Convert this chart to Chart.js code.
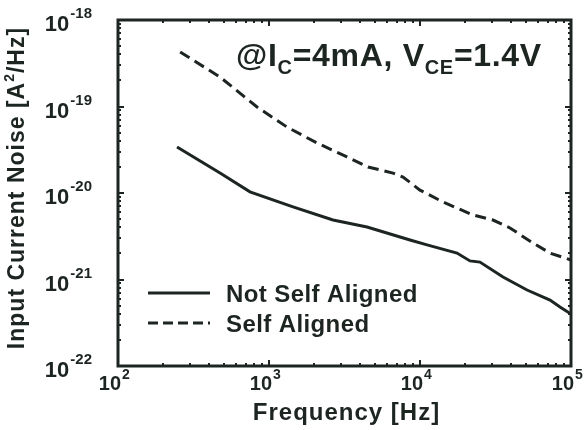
<!DOCTYPE html>
<html>
<head>
<meta charset="utf-8">
<script src="https://cdn.jsdelivr.net/npm/chart.js@4"></script>
<style>
  html, body { margin: 0; padding: 0; background: #fff; }
  #wrap { width: 584px; height: 430px; position: relative; }
</style>
</head>
<body>
<div id="wrap"><canvas id="noiseChart"></canvas></div>
<script>
// values
const freqNotSA  = [246, 474, 748, 1442, 2653, 4457, 8590, 11130, 17580, 21430, 24950, 35460, 51170, 72610, 84540, 100000];
const noiseNotSA = [3.4e-20, 1.7e-20, 1.03e-20, 6.9e-21, 4.87e-21, 4.05e-21, 2.86e-21, 2.51e-21, 2.02e-21, 1.64e-21, 1.59e-21, 1.07e-21, 7.56e-22, 5.79e-22, 4.81e-22, 3.99e-22];
const freqSA  = [258, 474, 833, 1315, 2078, 3285, 4526, 6624, 7716, 10000, 14200, 22440, 30420, 39450, 56000, 72610, 100000];
const noiseSA = [4.27e-19, 2.19e-19, 9.87e-20, 5.79e-20, 3.79e-20, 2.61e-20, 2.0e-20, 1.70e-20, 1.53e-20, 1.08e-20, 7.87e-21, 5.57e-21, 4.87e-21, 3.94e-21, 2.64e-21, 2.02e-21, 1.68e-21];
const seriesNames = ['Not Self Aligned', 'Self Aligned'];
const xTickExps = [2, 3, 4, 5];
const yTickExps = [-22, -21, -20, -19, -18];

const INK = '#1d2521';
const FONT = '"Liberation Sans", Arial, sans-serif';

function pts(xs, ys) {
    return xs.map((x, i) => ({ x: x, y: ys[i] }));
}

// frame, inward ticks, labels, note and legend
const decorPlugin = {
    id: 'decor',
    afterDraw(chart) {
        const ctx = chart.ctx;
        const a = chart.chartArea;
        const xs = chart.scales.x, ys = chart.scales.y;
        ctx.save();
        ctx.strokeStyle = INK;
        ctx.fillStyle = INK;

        // ticks
        ctx.lineWidth = 2;
        for (let e = xTickExps[0]; e <= xTickExps[xTickExps.length - 1]; e++) {
            for (let m = 1; m < 10; m++) {
                const v = m * Math.pow(10, e);
                if (v > xs.max * 1.0001) break;
                const px = Math.round(xs.getPixelForValue(v));
                const len = m === 1 ? 6 : 3;
                ctx.beginPath();
                ctx.moveTo(px, a.bottom); ctx.lineTo(px, a.bottom - len);
                ctx.moveTo(px, a.top); ctx.lineTo(px, a.top + len);
                ctx.stroke();
            }
        }
        for (let e = yTickExps[0]; e <= yTickExps[yTickExps.length - 1]; e++) {
            for (let m = 1; m < 10; m++) {
                const v = m * Math.pow(10, e);
                if (v > ys.max * 1.0001) break;
                const py = Math.round(ys.getPixelForValue(v));
                const len = m === 1 ? 6 : 3;
                ctx.beginPath();
                ctx.moveTo(a.left, py); ctx.lineTo(a.left + len, py);
                ctx.moveTo(a.right, py); ctx.lineTo(a.right - len, py);
                ctx.stroke();
            }
        }

        // frame
        ctx.lineWidth = 3;
        ctx.strokeRect(a.left, a.top, a.right - a.left, a.bottom - a.top);

        ctx.textBaseline = 'alphabetic';

        // x tick labels 10^n
        xTickExps.forEach(e => {
            const px = xs.getPixelForValue(Math.pow(10, e));
            ctx.font = 'bold 20px ' + FONT;
            ctx.textAlign = 'right';
            ctx.fillText('10', px + 3, 390);
            ctx.font = 'bold 14px ' + FONT;
            ctx.textAlign = 'left';
            ctx.fillText(String(e), px + 4, 379);
        });

        // y tick labels 10^-n
        yTickExps.forEach(e => {
            const py = ys.getPixelForValue(Math.pow(10, e));
            ctx.font = 'bold 15px ' + FONT;
            const supW = ctx.measureText(String(e)).width;
            ctx.textAlign = 'right';
            ctx.fillText(String(e), 92, py - 2);
            ctx.font = 'bold 22px ' + FONT;
            ctx.fillText('10', 92 - supW - 1, py + 11);
        });

        // axis titles
        ctx.letterSpacing = '1px';
        ctx.font = 'bold 24px ' + FONT;
        ctx.textAlign = 'center';
        ctx.fillText('Frequency [Hz]', (a.left + a.right) / 2 + 2, 420);

        ctx.save();
        ctx.translate(24, 188);
        ctx.rotate(-Math.PI / 2);
        ctx.textAlign = 'left';
        const t1 = 'Input Current Noise [A', t2 = '/Hz]';
        ctx.font = 'bold 23px ' + FONT;
        const w1 = ctx.measureText(t1).width;
        const w2 = ctx.measureText(t2).width;
        ctx.font = 'bold 14px ' + FONT;
        const ws = ctx.measureText('2').width;
        let x0 = -(w1 + ws + w2) / 2;
        ctx.font = 'bold 23px ' + FONT;
        ctx.fillText(t1, x0, 0);
        ctx.font = 'bold 14px ' + FONT;
        ctx.fillText('2', x0 + w1, -10);
        ctx.font = 'bold 23px ' + FONT;
        ctx.fillText(t2, x0 + w1 + ws, 0);
        ctx.restore();

        // operating point note
        ctx.textAlign = 'left';
        ctx.letterSpacing = '0.7px';
        const parts = [['@I', 0], ['C', 1], ['=4mA, V', 0], ['CE', 1], ['=1.4V', 0]];
        let x = 236;
        parts.forEach(p => {
            ctx.font = p[1] ? 'bold 20px ' + FONT : 'bold 32px ' + FONT;
            ctx.fillText(p[0], x, p[1] ? 74 : 66);
            x += ctx.measureText(p[0]).width;
        });

        // legend
        ctx.letterSpacing = '0.4px';
        const rows = [{ y: 293, dash: [] }, { y: 323, dash: [10, 5] }];
        rows.forEach((r, i) => {
            ctx.lineWidth = 3;
            ctx.setLineDash(r.dash);
            ctx.beginPath();
            ctx.moveTo(148, r.y); ctx.lineTo(210, r.y);
            ctx.stroke();
            ctx.setLineDash([]);
            ctx.font = 'bold 24px ' + FONT;
            ctx.fillText(seriesNames[i], 226, r.y + 9);
        });
        ctx.restore();
    }
};

new Chart(document.getElementById('noiseChart').getContext('2d'), {
    type: 'line',
    data: {
        datasets: [
            {
                label: seriesNames[0],
                data: pts(freqNotSA, noiseNotSA),
                borderColor: INK,
                borderWidth: 3,
                pointRadius: 0,
                tension: 0,
            },
            {
                label: seriesNames[1],
                data: pts(freqSA, noiseSA),
                borderColor: INK,
                borderWidth: 3,
                borderDash: [11, 6],
                pointRadius: 0,
                tension: 0,
            },
        ],
    },
    options: {
        responsive: true,
        maintainAspectRatio: false,
        animation: false,
        layout: { padding: { left: 118, right: 13, top: 20, bottom: 64 } },
        scales: {
            x: { type: 'logarithmic', min: 100, max: 100000, display: false },
            y: { type: 'logarithmic', min: 1e-22, max: 1e-18, display: false },
        },
        plugins: {
            legend: { display: false },
            tooltip: { enabled: false },
        },
    },
    plugins: [decorPlugin],
});
</script>
</body>
</html>
